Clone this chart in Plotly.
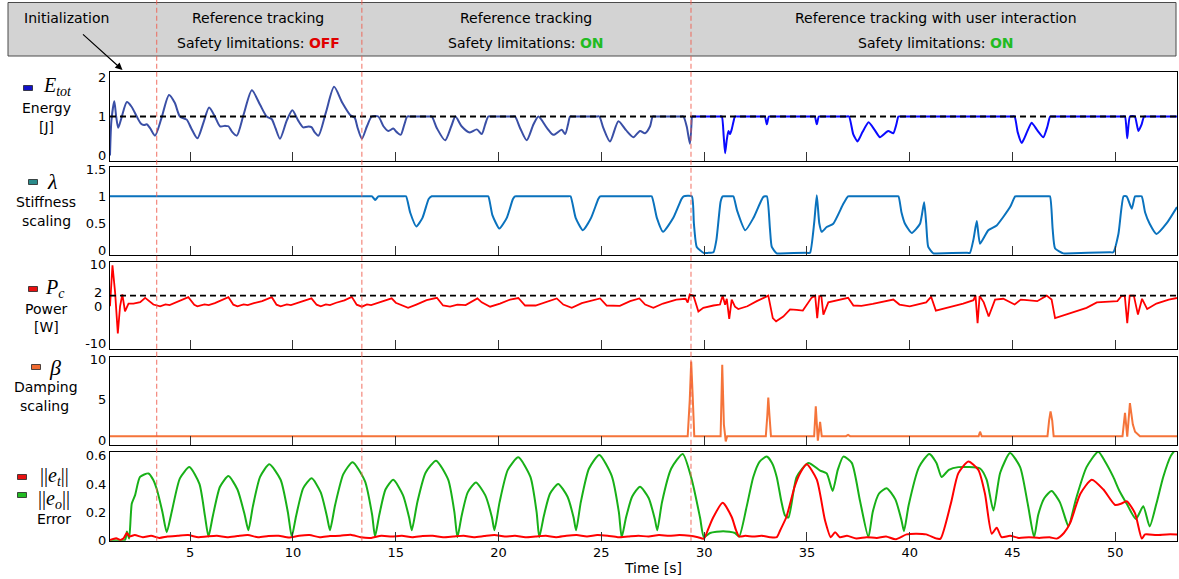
import plotly.graph_objects as go

W, H = 1179, 579

# ---------------- data ----------------
X_RANGE = [1.1, 53.0]
X_TICKS = [5, 10, 15, 20, 25, 30, 35, 40, 45, 50]
PHASE_BOUNDS = [3.37, 13.35, 29.36]

ENERGY_REF = 1.0
POWER_LIMIT = 2.0

ENERGY_A = [(1.1, 0.0), (1.17, 0.9), (1.31, 1.39), (1.4, 1.0), (1.5, 0.71), (1.65, 0.95), (1.92, 1.37),
            (2.15, 1.25), (2.4, 1.0), (2.6, 0.82), (2.75, 0.78), (2.89, 0.8), (3.05, 0.7), (3.29, 0.51),
            (3.6, 0.95), (3.97, 1.55), (4.25, 1.35), (4.5, 1.0), (4.83, 0.92), (5.05, 0.7), (5.35, 0.44),
            (5.65, 0.85), (5.92, 1.23), (6.2, 1.0), (6.45, 0.75), (6.7, 0.76), (6.86, 0.75), (7.05, 0.6),
            (7.27, 0.51), (7.6, 1.05), (8.0, 1.67), (8.4, 1.3), (8.72, 1.0), (8.97, 0.93), (9.15, 0.7),
            (9.37, 0.43), (9.7, 0.9), (9.97, 1.16), (10.25, 0.9), (10.5, 0.72), (10.7, 0.74), (10.9, 0.73),
            (11.05, 0.6), (11.24, 0.51), (11.6, 1.1), (12.0, 1.76), (12.4, 1.35), (12.78, 1.04), (13.0, 0.97),
            (13.15, 0.7), (13.35, 0.43), (13.6, 0.75), (13.83, 1.0), (14.15, 1.0), (14.4, 0.75), (14.64, 0.63),
            (14.88, 0.69), (15.05, 0.6), (15.24, 0.53), (15.42, 0.8), (15.56, 1.0), (15.7, 1.0), (16.6, 1.0),
            (16.75, 1.0), (17.0, 0.7), (17.4, 0.39), (17.7, 0.75), (17.9, 1.0), (18.2, 0.75), (18.6, 0.59),
            (18.94, 0.67), (19.18, 0.55), (19.35, 0.8), (19.5, 1.0), (19.65, 1.0), (20.65, 1.0), (20.8, 1.0),
            (21.05, 0.7), (21.37, 0.39), (21.7, 0.8), (21.94, 1.0), (22.35, 0.71), (22.67, 0.53), (23.07, 0.66),
            (23.24, 0.55), (23.38, 0.8), (23.48, 1.0), (23.62, 1.0), (24.75, 1.0), (24.9, 1.0), (25.1, 0.7),
            (25.42, 0.36), (25.83, 0.88), (26.2, 0.65), (26.56, 0.47), (26.88, 0.63), (27.12, 0.57),
            (27.37, 0.75), (27.5, 1.0), (27.65, 1.0), (28.85, 1.0), (28.99, 1.0), (29.15, 0.75), (29.31, 0.30),
            (29.4, 1.0)]

ENERGY_B = [(29.4, 1.0), (29.55, 1.0), (30.72, 1.0), (30.86, 1.0), (30.95, 0.5), (31.02, 0.06), (31.1, 0.4),
            (31.18, 0.63), (31.26, 0.55), (31.34, 0.67), (31.42, 0.85), (31.5, 1.0), (31.65, 1.0), (32.8, 1.0),
            (32.95, 1.0), (33.05, 0.8), (33.15, 1.0), (33.3, 1.0), (35.23, 1.0), (35.38, 1.0), (35.48, 0.8),
            (35.58, 1.0), (35.73, 1.0), (36.9, 1.0), (37.05, 1.0), (37.25, 0.55), (37.46, 0.36), (37.7, 0.6),
            (38.0, 0.85), (38.3, 0.65), (38.55, 0.47), (38.95, 0.63), (39.2, 0.57), (39.35, 0.8), (39.45, 1.0),
            (39.6, 1.0), (44.95, 1.0), (45.1, 1.0), (45.25, 0.6), (45.45, 0.32), (45.7, 0.6), (45.93, 0.84),
            (46.2, 0.65), (46.5, 0.47), (46.7, 0.75), (46.83, 1.0), (46.98, 1.0), (50.32, 1.0), (50.47, 1.0),
            (50.58, 0.44), (50.71, 1.0), (50.95, 1.0), (51.12, 0.63), (51.28, 0.8), (51.4, 1.0), (51.55, 1.0),
            (53.0, 1.0)]

STIFFNESS = [(1.1, 1.0), (13.7, 1.0), (13.85, 1.0), (14.0, 0.93), (14.15, 1.0), (14.3, 1.0), (15.35, 1.0),
             (15.5, 1.0), (15.7, 0.7), (16.0, 0.44), (16.3, 0.6), (16.6, 0.95), (16.75, 1.0), (16.9, 1.0),
             (19.35, 1.0), (19.5, 1.0), (19.7, 0.65), (20.04, 0.40), (20.4, 0.6), (20.7, 0.95), (20.8, 1.0),
             (20.95, 1.0), (23.35, 1.0), (23.5, 1.0), (23.75, 0.6), (24.1, 0.37), (24.5, 0.6), (24.85, 0.95),
             (24.94, 1.0), (25.1, 1.0), (27.3, 1.0), (27.45, 1.0), (27.7, 0.6), (28.0, 0.34), (28.5, 0.6),
             (28.9, 0.95), (29.0, 1.0), (29.4, 1.0), (29.5, 0.5), (29.64, 0.06), (29.97, -0.05), (30.2, -0.05),
             (30.45, -0.04), (30.6, 0.2), (30.8, 0.9), (30.9, 1.0), (31.05, 1.0), (31.3, 1.0), (31.42, 1.0),
             (31.6, 0.74), (32.0, 0.37), (32.4, 0.6), (32.88, 0.99), (33.05, 1.0), (33.2, 0.4), (33.29, 0.06),
             (33.53, -0.06), (33.7, -0.06), (35.0, -0.05), (35.15, -0.05), (35.35, 0.5), (35.48, 1.02),
             (35.6, 0.5), (35.72, 0.34), (35.96, 0.43), (36.28, 0.49), (36.77, 0.86), (37.0, 1.0), (37.15, 1.0),
             (39.3, 1.0), (39.45, 1.0), (39.6, 0.7), (39.77, 0.49), (40.1, 0.32), (40.5, 0.49), (40.7, 0.89),
             (40.8, 0.5), (40.9, 0.06), (41.15, -0.06), (41.3, -0.06), (42.8, -0.05), (42.93, -0.05),
             (43.1, 0.2), (43.26, 0.54), (43.42, 0.12), (43.82, 0.37), (44.23, 0.46), (44.88, 0.8),
             (45.13, 1.0), (45.3, 1.0), (46.67, 1.0), (46.82, 1.0), (46.95, 0.4), (47.07, 0.03), (47.47, -0.06),
             (47.6, -0.06), (49.75, -0.04), (49.9, -0.04), (50.15, 0.3), (50.4, 1.0), (50.55, 1.0), (50.8, 0.77),
             (50.96, 1.0), (51.1, 1.0), (51.28, 1.0), (51.45, 0.7), (51.67, 0.49), (52.0, 0.30), (52.5, 0.5),
             (53.0, 0.8)]

POWER = [(1.1, -0.7), (1.22, 9.7), (1.35, 2.7), (1.48, -7.6), (1.59, -0.7), (1.7, 2.3), (1.83, -2.0), (2.0, 0.0),
         (2.24, 0.0), (2.57, 0.35), (2.81, 1.45), (3.21, -0.26), (3.54, -0.7), (3.8, -0.2), (4.0, -0.4),
         (4.3, 0.2), (4.6, 0.8), (4.91, 1.6), (5.2, -0.3), (5.35, -0.7), (5.7, -0.2), (5.9, -0.4), (6.2, 0.1),
         (6.5, 0.7), (6.86, 1.6), (7.1, -0.3), (7.3, -0.7), (7.6, -0.2), (7.8, -0.4), (8.1, 0.1), (8.5, 0.6),
         (8.97, 1.6), (9.2, -0.3), (9.4, -0.7), (9.7, -0.2), (9.9, -0.4), (10.2, 0.1), (10.6, 0.8), (10.9, 1.3),
         (11.15, -0.3), (11.35, -0.7), (11.6, -0.2), (11.8, -0.4), (12.1, 0.2), (12.5, 0.8), (12.86, 1.7),
         (13.1, -0.3), (13.35, -0.8), (13.6, -0.2), (13.8, -0.4), (14.1, 0.1), (14.5, 0.8), (14.8, 1.3),
         (15.0, 0.2), (15.2, -0.26), (15.6, -1.1), (16.0, -0.26), (16.5, 0.85), (17.0, 1.45), (17.3, -0.5),
         (17.64, -0.8), (18.0, -0.26), (18.4, -0.4), (18.86, 1.0), (18.97, 1.3), (19.18, 0.3), (19.59, -0.8),
         (20.07, 0.0), (20.56, 1.0), (20.96, 1.4), (21.29, -0.5), (21.8, -0.5), (22.45, 0.6), (22.83, 1.3),
         (23.15, -0.26), (23.56, -1.1), (24.05, 0.1), (24.53, 0.85), (24.94, 1.3), (25.26, -0.5), (25.9, -0.6),
         (26.4, 0.6), (26.85, 1.3), (27.13, -0.26), (27.53, -1.1), (28.0, 0.0), (28.65, 1.0), (29.1, 1.2),
         (29.2, 0.25), (29.3, 2.3), (29.48, 2.0), (29.72, -2.0), (29.96, -1.1), (30.45, -0.5), (30.77, -0.26),
         (30.9, 2.0), (31.02, -0.3), (31.1, 1.2), (31.22, -3.9), (31.34, 1.0), (31.5, -0.8), (31.66, -1.4),
         (32.1, -0.7), (32.56, 0.6), (33.12, 2.0), (33.34, -3.7), (33.5, -4.5), (33.85, -3.3), (34.18, -1.5),
         (34.5, -1.6), (34.8, -1.8), (35.23, 1.5), (35.4, 2.0), (35.5, -3.7), (35.6, 1.9), (35.7, 1.9),
         (35.8, -2.8), (36.04, 0.3), (36.5, 0.85), (37.0, 1.45), (37.26, -0.5), (37.65, -0.6), (38.2, -0.1),
         (39.2, 1.0), (39.5, -0.26), (40.0, -0.7), (40.8, 0.3), (41.04, 1.7), (41.27, -1.8), (41.6, -1.4),
         (42.6, 0.0), (43.1, 0.85), (43.2, 2.0), (43.3, -5.0), (43.4, 1.9), (43.6, 0.3), (43.84, -3.3),
         (44.15, 1.0), (44.55, 1.2), (45.1, -0.26), (45.4, 1.0), (45.7, 0.85), (46.2, 0.6), (46.66, 2.0),
         (46.9, 1.0), (47.07, -3.7), (47.3, -3.3), (47.8, -2.4), (48.6, -1.1), (49.1, 0.3), (50.1, 0.6),
         (50.3, 1.9), (50.46, 2.0), (50.58, -5.0), (50.7, 2.0), (50.9, 2.0), (51.1, -2.8), (51.3, 1.2),
         (51.55, -1.4), (52.0, 0.0), (52.6, 1.0), (53.0, 1.4)]

DAMPING = [(1.1, 0.55), (29.2, 0.55), (29.3, 5.0), (29.37, 9.7), (29.45, 5.0), (29.52, 0.55), (30.8, 0.55),
           (30.88, 9.3), (30.96, 2.0), (31.05, -0.1), (31.12, 0.55), (33.0, 0.55), (33.07, 3.0), (33.12, 5.3),
           (33.18, 3.0), (33.25, 0.55), (35.35, 0.55), (35.43, 4.2), (35.53, 0.0), (35.64, 2.3), (35.72, 0.55),
           (36.9, 0.55), (37.0, 0.7), (37.1, 0.55), (43.35, 0.55), (43.42, 1.1), (43.5, 0.55), (46.7, 0.55),
           (46.78, 2.5), (46.85, 3.6), (46.93, 2.5), (47.0, 0.55), (50.35, 0.55), (50.47, 3.4), (50.58, 0.5),
           (50.71, 4.6), (50.85, 2.0), (50.96, 1.1), (51.2, 0.55), (53.0, 0.55)]

ERROR_O = [(1.1, 0.0), (1.83, 0.0), (1.92, 0.06), (2.03, 0.01), (2.16, 0.26), (2.32, 0.32), (2.56, 0.45),
           (2.97, 0.475), (3.2, 0.43), (3.38, 0.36), (3.65, 0.2), (3.86, 0.056),
           (4.1, 0.2), (4.5, 0.44), (4.96, 0.52), (5.45, 0.4), (5.72, 0.17), (5.89, 0.025),
           (6.1, 0.17), (6.45, 0.38), (6.86, 0.456), (7.3, 0.36), (7.65, 0.18), (7.83, 0.07),
           (8.05, 0.24), (8.4, 0.45), (8.85, 0.54), (9.4, 0.43), (9.75, 0.2), (9.94, 0.025),
           (10.15, 0.17), (10.5, 0.37), (10.91, 0.44), (11.35, 0.34), (11.65, 0.17), (11.8, 0.07),
           (12.05, 0.25), (12.45, 0.47), (12.9, 0.555), (13.5, 0.42), (13.85, 0.18), (13.99, 0.025),
           (14.2, 0.18), (14.5, 0.36), (14.88, 0.43), (15.35, 0.32), (15.65, 0.16), (15.78, 0.07),
           (16.05, 0.27), (16.45, 0.48), (16.96, 0.566), (17.55, 0.43), (17.85, 0.2), (18.0, 0.02),
           (18.2, 0.17), (18.5, 0.34), (18.9, 0.41), (19.35, 0.32), (19.68, 0.16), (19.8, 0.07),
           (20.05, 0.27), (20.45, 0.5), (20.96, 0.59), (21.55, 0.45), (21.85, 0.2), (21.98, 0.02),
           (22.2, 0.17), (22.5, 0.33), (22.9, 0.40), (23.35, 0.31), (23.65, 0.16), (23.77, 0.07),
           (24.0, 0.27), (24.4, 0.51), (24.9, 0.607), (25.5, 0.46), (25.85, 0.2), (25.99, 0.02),
           (26.2, 0.16), (26.5, 0.31), (26.88, 0.38), (27.3, 0.3), (27.6, 0.15), (27.72, 0.07),
           (27.95, 0.27), (28.4, 0.51), (28.96, 0.614), (29.4, 0.43), (29.8, 0.16), (29.99, 0.02),
           (30.29, 0.05), (30.93, 0.063), (31.5, 0.05), (31.7, 0.025), (32.07, 0.24), (32.39, 0.45),
           (32.7, 0.56), (33.04, 0.595), (33.3, 0.55), (33.53, 0.45), (33.75, 0.28), (33.93, 0.176),
           (34.1, 0.16), (34.5, 0.45), (35.07, 0.55), (35.64, 0.495), (35.96, 0.475), (36.25, 0.35),
           (36.5, 0.5), (36.77, 0.595), (37.18, 0.55), (37.58, 0.28), (37.99, 0.02), (38.2, 0.2),
           (38.5, 0.33), (38.88, 0.37), (39.3, 0.29), (39.6, 0.14), (39.72, 0.063), (39.95, 0.25),
           (40.45, 0.52), (40.95, 0.614), (41.3, 0.55), (41.55, 0.45), (41.9, 0.5), (42.36, 0.52),
           (43.42, 0.51), (43.74, 0.43), (44.07, 0.21), (44.4, 0.48), (44.88, 0.62), (45.37, 0.52),
           (45.75, 0.25), (46.05, 0.02), (46.25, 0.18), (46.55, 0.3), (46.9, 0.35), (47.3, 0.27),
           (47.6, 0.14), (47.72, 0.097), (48.1, 0.3), (48.6, 0.52), (49.17, 0.63), (49.5, 0.56),
           (49.9, 0.45), (50.2, 0.35), (50.55, 0.26), (51.0, 0.15), (51.36, 0.24), (51.67, 0.097),
           (52.0, 0.26), (52.33, 0.45), (52.7, 0.6), (53.0, 0.66)]

ERROR_T = [(1.1, 0.0), (1.4, 0.012), (1.6, 0.0), (1.75, 0.01), (1.92, 0.05), (2.05, 0.025), (2.3, 0.035),
           (2.7, 0.02), (3.1, 0.03), (3.5, 0.015), (3.9, 0.025), (4.4, 0.03), (4.9, 0.035), (5.4, 0.02),
           (5.8, 0.025), (6.3, 0.03), (6.8, 0.02), (7.3, 0.028), (7.8, 0.035), (8.3, 0.02), (8.8, 0.028),
           (9.3, 0.03), (9.8, 0.018), (10.3, 0.03), (10.8, 0.035), (11.3, 0.02), (11.8, 0.028), (12.3, 0.03),
           (12.8, 0.038), (13.3, 0.02), (13.8, 0.015), (14.3, 0.03), (14.8, 0.025), (15.3, 0.03), (15.8, 0.02),
           (16.3, 0.028), (16.8, 0.03), (17.3, 0.02), (17.8, 0.025), (18.3, 0.03), (18.8, 0.02), (19.3, 0.028),
           (19.8, 0.035), (20.3, 0.025), (20.8, 0.03), (21.3, 0.02), (21.8, 0.025), (22.3, 0.03), (22.8, 0.02),
           (23.3, 0.03), (23.8, 0.035), (24.3, 0.025), (24.8, 0.035), (25.3, 0.03), (25.8, 0.02), (26.3, 0.025),
           (26.8, 0.03), (27.3, 0.025), (27.8, 0.035), (28.3, 0.03), (28.8, 0.035), (29.3, 0.03), (29.7, 0.02),
           (29.99, 0.01), (30.2, 0.08), (30.45, 0.164), (30.9, 0.265), (31.34, 0.164), (31.55, 0.07),
           (31.7, 0.025), (32.0, 0.03), (32.4, 0.025), (32.8, 0.03), (33.2, 0.02), (33.53, 0.02), (33.7, 0.07),
           (34.0, 0.164), (34.4, 0.38), (34.66, 0.475), (34.99, 0.54), (35.48, 0.43), (35.88, 0.14),
           (36.16, 0.02), (36.37, 0.056), (36.6, 0.02), (36.95, 0.03), (37.4, 0.01), (37.9, 0.02),
           (38.4, 0.015), (38.85, 0.025), (39.3, 0.005), (39.85, 0.04), (40.3, 0.045), (40.8, 0.04),
           (41.3, 0.01), (41.5, 0.01), (42.0, 0.26), (42.36, 0.475), (42.85, 0.56), (43.34, 0.5),
           (43.66, 0.33), (43.99, 0.045), (44.23, 0.088), (44.47, 0.02), (44.88, 0.03), (45.3, 0.015),
           (45.8, 0.02), (46.3, 0.015), (46.8, 0.02), (47.15, 0.01), (47.5, 0.05), (47.8, 0.12), (48.3, 0.33),
           (48.85, 0.43), (49.42, 0.36), (49.99, 0.25), (50.3, 0.26), (50.55, 0.277), (50.96, 0.19),
           (51.29, 0.01), (51.45, 0.04), (52.0, 0.035), (52.5, 0.04), (53.0, 0.04)]

Y_RANGES = [[-0.14, 2.14], [-0.09, 1.55], [-11.6, 10.6], [-0.53, 10.3], [-0.005, 0.63]]
Y_TICKVALS = [[0, 1, 2], [0, 0.5, 1, 1.5], [-10, 10], [0, 5, 10], [0, 0.2, 0.4, 0.6]]
Y_TICKTEXT = [["0", "1", "2"], ["0", "0.5", "1", "1.5"], ["-10", "10"], ["0", "5", "10"],
              ["0", "0.2", "0.4", "0.6"]]
POWER_EXTRA_TICKS = [("2", 2.0, 3), ("0", 0.0, -3)]

HEADER = [
    (258, "Reference tracking", "OFF", "#e00000"),
    (526, "Reference tracking", "ON", "#22bb22"),
    (936, "Reference tracking with user interaction", "ON", "#22bb22"),
]

# ---------------- layout helpers ----------------
def px(p):
    return p / W

def py(p):
    return 1 - p / H

PANEL_PX = [(72, 161), (166.7, 255), (261.7, 349.3), (356.7, 445), (451.7, 540.7)]
X_DOMAIN = [px(110), px(1177)]
SANS = "DejaVu Sans"
SERIF = "Liberation Serif"

fig = go.Figure()

def unzip(pts):
    return [p[0] for p in pts], [p[1] for p in pts]

def add_line(pts, row, color, width=2.0, shape="linear", smoothing=0.8):
    t, v = unzip(pts)
    sfx = "" if row == 1 else str(row)
    line = dict(color=color, width=width, shape=shape)
    if shape == "spline":
        line["smoothing"] = smoothing
    fig.add_trace(go.Scatter(x=t, y=v, mode="lines", line=line, xaxis="x" + sfx, yaxis="y" + sfx,
                             showlegend=False, hoverinfo="skip"))

def add_hline(val, row):
    sfx = "" if row == 1 else str(row)
    fig.add_trace(go.Scatter(x=X_RANGE, y=[val, val], mode="lines",
                             line=dict(color="black", width=1.8, dash="6px,4px"),
                             xaxis="x" + sfx, yaxis="y" + sfx, showlegend=False, hoverinfo="skip"))

add_line(ENERGY_A, 1, "#3a4fa6", shape="spline", smoothing=0.7)
add_line(ENERGY_B, 1, "#0a0aff", shape="spline", smoothing=0.5)
add_hline(ENERGY_REF, 1)
add_line(STIFFNESS, 2, "#0a72bd", shape="spline", smoothing=0.5)
add_line(POWER, 3, "#ff0000", width=1.8)
add_hline(POWER_LIMIT, 3)
add_line(DAMPING, 4, "#f5743a", width=2.0)
add_line(ERROR_O, 5, "#18b018", shape="spline", smoothing=0.6)
add_line(ERROR_T, 5, "#ff0000", shape="spline", smoothing=0.6)

layout = dict(
    width=W, height=H, margin=dict(l=0, r=0, t=0, b=0),
    paper_bgcolor="white", plot_bgcolor="white", template="none",
    font=dict(family=SANS, size=13, color="black"),
    showlegend=False,
)
for i in range(5):
    sfx = "" if i == 0 else str(i + 1)
    top, bot = PANEL_PX[i]
    layout["xaxis" + sfx] = dict(
        domain=X_DOMAIN, range=X_RANGE, anchor="y" + sfx, showline=True, mirror=True,
        linecolor="black", linewidth=1, ticks="inside", ticklen=9, tickwidth=1, tickcolor="#333",
        tickvals=X_TICKS, ticktext=[str(v) for v in X_TICKS], showticklabels=(i == 4),
        showgrid=False, zeroline=False, tickfont=dict(size=13, family=SANS), automargin=False,
        **({} if i == 0 else {"matches": "x"}),
    )
    layout["yaxis" + sfx] = dict(
        domain=[py(bot), py(top)], range=Y_RANGES[i], anchor="x" + sfx, showline=True, mirror=True,
        linecolor="black", linewidth=1, ticks="", tickvals=Y_TICKVALS[i], ticktext=Y_TICKTEXT[i],
        showgrid=False, zeroline=False, tickfont=dict(size=13, family=SANS), automargin=False,
    )
fig.update_layout(**layout)

shapes = []
# header box
shapes.append(dict(type="rect", xref="paper", yref="paper", x0=px(8), x1=px(1176), y0=py(56), y1=py(2.5),
                   fillcolor="#d3d3d3", line=dict(color="#4a4a4a", width=1), layer="below"))
# phase boundaries
for t in PHASE_BOUNDS:
    shapes.append(dict(type="line", xref="x", yref="paper", x0=t, x1=t, y0=py(540.7), y1=py(0),
                       line=dict(color="rgba(240,95,80,0.75)", width=1.2, dash="5px,3px"), layer="above"))

# small legend swatches (x_center, y_center, color)
SWATCHES = [(28, 88, "#1212c8"), (33, 182, "#2a8a8a"), (33, 289, "#e81010"), (36, 367, "#f06a30"),
            (22, 477, "#e81010"), (22, 495, "#22bb22")]
for cx, cy, col in SWATCHES:
    shapes.append(dict(type="rect", xref="paper", yref="paper", x0=px(cx - 4.5), x1=px(cx + 4.5),
                       y0=py(cy + 2.5), y1=py(cy - 2.5), fillcolor=col, line=dict(color="#222", width=0.8)))
fig.update_layout(shapes=shapes)

ann = []
def text(x, y, s, size=14, family=SANS, color="black", xanchor="center"):
    ann.append(dict(xref="paper", yref="paper", x=px(x), y=py(y), text=s, showarrow=False,
                    xanchor=xanchor, yanchor="middle", font=dict(size=size, family=family, color=color)))

text(66, 18, "Initialization")
for cx, l1, state, col in HEADER:
    text(cx, 18, l1)
    text(cx, 43, "Safety limitations: <b><span style='color:%s'>%s</span></b>" % (col, state))

# arrow from "Initialization" to the start of the energy plot
ann.append(dict(xref="paper", yref="paper", x=px(122.5), y=py(70), ax=-41, ay=-37, axref="pixel", ayref="pixel",
                text="", showarrow=True, arrowhead=2, arrowsize=1.2, arrowwidth=1.2, arrowcolor="black"))

# left side labels
text(57, 87, "<i>E</i><sub><i>tot</i></sub>", size=20, family=SERIF)
text(46, 108, "Energy")
text(46, 127, "[J]")
text(52, 182, "<i>λ</i>", size=22, family=SERIF)
text(46, 202, "Stiffness")
text(46, 221, "scaling")
text(55, 288, "<i>P</i><sub><i>c</i></sub>", size=20, family=SERIF)
text(46, 309, "Power")
text(46, 327, "[W]")
text(55, 367, "<i>β</i>", size=22, family=SERIF)
text(46, 387, "Damping")
text(44, 406, "scaling")
text(54, 476, "||<i>e</i><sub><i>t</i></sub>||", size=20, family=SERIF)
text(54, 499, "||<i>e</i><sub><i>o</i></sub>||", size=20, family=SERIF)
text(54, 519, "Error")

# x axis title
text(653, 568, "Time [s]")

# extra power tick labels (close together, nudged apart as in the original)
for lab, val, shift in POWER_EXTRA_TICKS:
    ann.append(dict(xref="paper", yref="y3", x=px(104), y=val, yshift=shift, text=lab, showarrow=False,
                    xanchor="right", yanchor="middle", font=dict(size=13, family=SANS, color="black")))

fig.update_layout(annotations=ann)
fig.write_html("out.html", config={"displayModeBar": False},
               post_script="document.body.style.margin='0px';")
